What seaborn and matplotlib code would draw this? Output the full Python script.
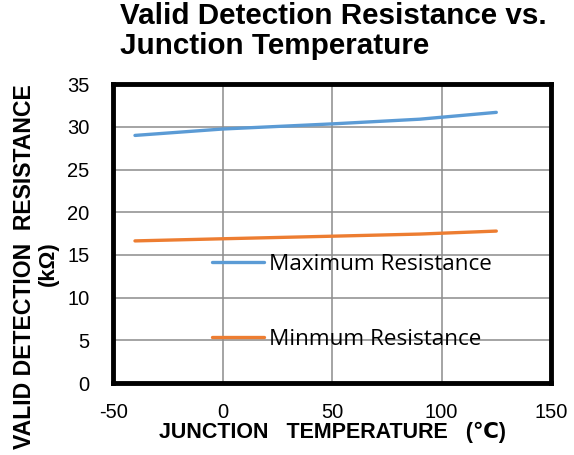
import pandas as pd
import matplotlib.pyplot as plt
import seaborn as sns

sns.set_theme(style="white")
plt.rcParams['font.family'] = ['Liberation Sans', 'DejaVu Sans']
plt.rcParams['text.color'] = 'black'
plt.rcParams['axes.labelcolor'] = 'black'
plt.rcParams['axes.unicode_minus'] = False

temps = [-40, 0, 25, 50, 90, 125]
max_res = [29.0, 29.75, 30.05, 30.35, 30.9, 31.7]
min_res = [16.65, 16.9, 17.05, 17.2, 17.45, 17.8]
series = ["Maximum Resistance", "Minmum Resistance"]
colors = ["#5B9BD5", "#ED7D31"]

df = pd.concat([
    pd.DataFrame({"temp": temps, "res": max_res, "series": series[0]}),
    pd.DataFrame({"temp": temps, "res": min_res, "series": series[1]}),
])

fig = plt.figure(figsize=(5.74, 4.55), dpi=100)
ax = fig.add_axes([0.197, 0.158, 0.763, 0.657])

sns.lineplot(data=df, x="temp", y="res", hue="series", palette=colors,
             linewidth=2.4, ax=ax, legend=True)

ax.set_xlim(-50, 150)
ax.set_ylim(0, 35)
ax.set_xticks([-50, 0, 50, 100, 150])
ax.set_yticks(range(0, 36, 5))
ax.tick_params(axis="y", labelsize=14.5, length=0, pad=17, colors="black")
ax.tick_params(axis="x", labelsize=14.5, length=0, pad=14, colors="black")
ax.grid(True, color="#8c8c8c", linewidth=1.1)
for s in ax.spines.values():
    s.set_linewidth(3.5)
    s.set_color("black")

ax.set_xlabel("JUNCTION   TEMPERATURE   (℃)", fontsize=15.5, fontweight="bold", labelpad=0)
ax.set_ylabel("")
fig.text(0.042, 0.413, "VALID DETECTION  RESISTANCE", rotation=90, ha="center", va="center",
         fontsize=16.6, fontweight="bold")
fig.text(0.084, 0.42, "(kΩ)", rotation=90, ha="center", va="center",
         fontsize=16, fontweight="bold")

fig.text(0.209, 0.995, "Valid Detection Resistance vs.\nJunction Temperature",
         ha="left", va="top", fontsize=21.3, fontweight="bold", linespacing=1.1)

leg = ax.legend(loc="upper left", bbox_to_anchor=(0.226, 0.433), frameon=False,
                borderaxespad=0, borderpad=0,
                handlelength=2.3, handletextpad=0.25, labelspacing=2.4,
                prop={"family": "Open Sans", "size": 16.2})

fig.savefig("out.png", dpi=100)
